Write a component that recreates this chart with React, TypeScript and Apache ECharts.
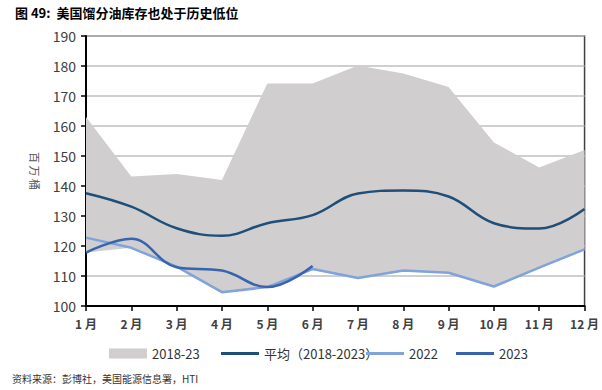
import React, { useEffect, useRef } from "react";
import * as echarts from "echarts";

const months = ["1 月", "2 月", "3 月", "4 月", "5 月", "6 月", "7 月", "8 月", "9 月", "10 月", "11 月", "12 月"];
const rangeLow = [117.8, 119.4, 113.0, 104.6, 106.0, 112.0, 109.3, 111.5, 111.0, 106.5, 112.7, 119.0];
const rangeHigh = [163.0, 143.2, 144.0, 142.0, 174.2, 174.2, 180.2, 177.5, 173.0, 154.5, 146.2, 152.0];
const avg = [137.6, 133.1, 125.9, 123.4, 127.6, 130.3, 137.5, 138.5, 136.5, 127.6, 125.8, 132.3];
const y2022 = [122.8, 119.4, 113.1, 104.6, 106.3, 112.3, 109.3, 111.8, 111.1, 106.5, 112.8, 118.9];
const y2023 = [117.8, 122.4, 112.9, 111.8, 106.3, 113.3];
const yTicks = { min: 100, max: 190, interval: 10 };

const FONT = "'Noto Sans CJK SC', 'Noto Sans', sans-serif";

export default function App() {
  const ref = useRef<HTMLDivElement>(null);
  useEffect(() => {
    if (!ref.current) return;
    const chart = echarts.init(ref.current, null, { renderer: "svg" });
    const diff = rangeHigh.map((h, i) => +(h - rangeLow[i]).toFixed(2));
    const legendBase = {
      top: 342,
      itemHeight: 10,
      itemWidth: 38,
      itemGap: 0,
      textStyle: { fontSize: 13, color: "#333", fontFamily: FONT },
      selectedMode: false,
    };
    chart.setOption({
      animation: false,
      backgroundColor: "#fff",
      title: {
        text: "图 49:  美国馏分油库存也处于历史低位",
        left: 10,
        top: 1,
        textStyle: { fontSize: 13, fontWeight: "bold", color: "#000", fontFamily: FONT },
      },
      graphic: [
        {
          type: "text",
          left: 12,
          top: 373,
          style: { text: "资料来源：彭博社，美国能源信息署，HTI", fontSize: 10, fill: "#333", fontFamily: FONT },
        },
      ],
      legend: [
        { ...legendBase, left: 104, data: [{ name: "2018-23", icon: "rect" }] },
        { ...legendBase, left: 216, data: [{ name: "平均（2018-2023）", icon: "rect" }], itemHeight: 3 },
        { ...legendBase, left: 361, data: [{ name: "2022", icon: "rect" }], itemHeight: 3 },
        { ...legendBase, left: 451, data: [{ name: "2023", icon: "rect" }], itemHeight: 3 },
      ],
      grid: {
        left: 86,
        right: 14,
        top: 36,
        bottom: 84,
        show: true,
        borderColor: "#404040",
        borderWidth: 1.5,
        backgroundColor: "transparent",
      },
      xAxis: {
        type: "category",
        data: months,
        boundaryGap: false,
        axisLine: { show: true, lineStyle: { color: "#000", width: 2 } },
        axisTick: { show: true, length: 5, lineStyle: { color: "#000", width: 1.5 } },
        axisLabel: { fontSize: 12, fontWeight: "bold", color: "#404040", margin: 11, fontFamily: FONT },
        splitLine: { show: false },
      },
      yAxis: {
        type: "value",
        min: yTicks.min,
        max: yTicks.max,
        interval: yTicks.interval,
        name: "百 万 桶",
        nameLocation: "middle",
        nameRotate: -90,
        nameGap: 46,
        nameTextStyle: { fontSize: 11, color: "#595959", fontFamily: FONT },
        axisLine: { show: true, lineStyle: { color: "#000", width: 2 } },
        axisTick: { show: true, length: 5, lineStyle: { color: "#000", width: 1.5 } },
        axisLabel: { fontSize: 14, color: "#404040", margin: 10, fontFamily: FONT },
        splitLine: { show: true, lineStyle: { color: "#BFBFBF", width: 1.5 } },
      },
      series: [
        {
          name: "rangeBase",
          type: "line",
          data: rangeLow,
          stack: "range",
          symbol: "none",
          lineStyle: { opacity: 0, width: 0 },
          areaStyle: { opacity: 0 },
          silent: true,
        },
        {
          name: "2018-23",
          type: "line",
          data: diff,
          stack: "range",
          symbol: "none",
          color: "#D0CECE",
          lineStyle: { opacity: 0, width: 0 },
          areaStyle: { color: "#D0CECE", opacity: 1 },
        },
        {
          name: "平均（2018-2023）",
          type: "line",
          data: avg,
          smooth: 0.4,
          symbol: "none",
          color: "#1F4E79",
          lineStyle: { color: "#1F4E79", width: 2.5 },
        },
        {
          name: "2022",
          type: "line",
          data: y2022,
          symbol: "none",
          color: "#7FA3DA",
          lineStyle: { color: "#7FA3DA", width: 2.5 },
        },
        {
          name: "2023",
          type: "line",
          data: y2023,
          smooth: 0.4,
          symbol: "none",
          color: "#3763B0",
          lineStyle: { color: "#3763B0", width: 2.5 },
        },
      ],
    });
    return () => chart.dispose();
  }, []);
  return <div ref={ref} style={{ width: 602, height: 390, position: "absolute", left: 0, top: 0 }} />;
}
